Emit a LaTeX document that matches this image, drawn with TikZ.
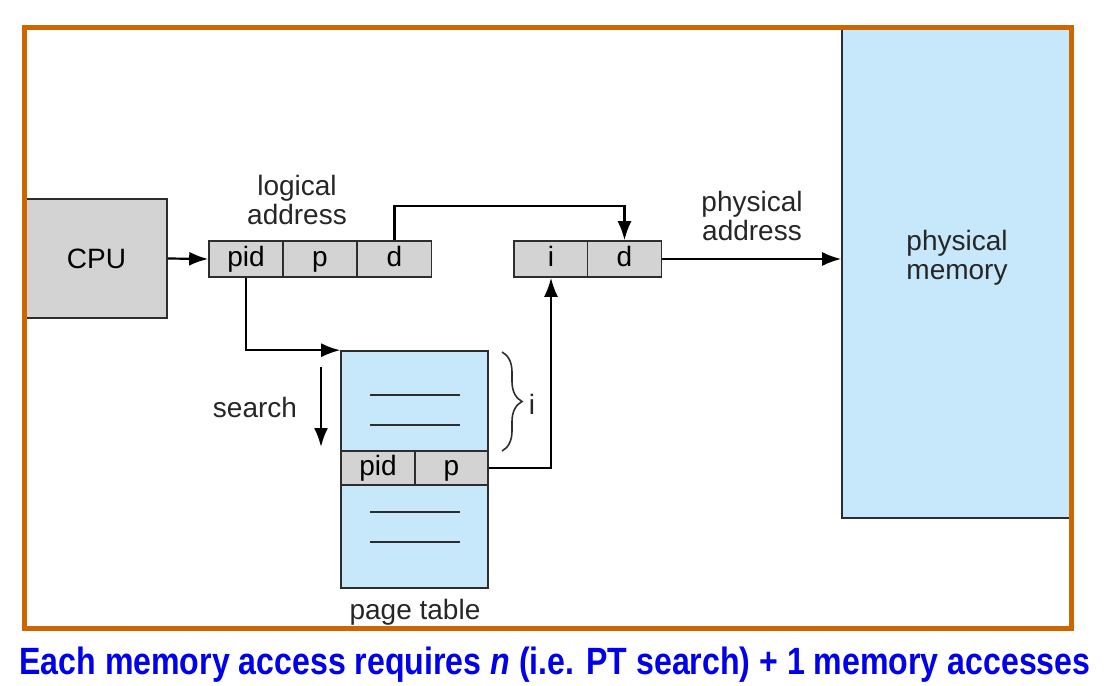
\documentclass[tikz,border=0pt]{standalone}
\usepackage{fontspec}
\setmainfont{Liberation Sans}
\usetikzlibrary{arrows.meta,decorations.pathreplacing}
\definecolor{framec}{RGB}{204,102,0}
\definecolor{cellgray}{RGB}{211,211,211}
\definecolor{memblue}{RGB}{198,232,250}
\definecolor{edgec}{RGB}{45,45,45}
\definecolor{captblue}{RGB}{0,0,235}
\begin{document}
\begin{tikzpicture}[x=1pt,y=-1pt,
  lbl/.style={font=\fontsize{28}{29}\selectfont, text=black!85, align=center, inner sep=0},
  cell/.style={draw=edgec, line width=1.6pt, fill=cellgray, minimum width=74pt, minimum height=36pt, inner sep=0, text height=20pt, text depth=6pt, font=\fontsize{28}{29}\selectfont},
  bluebox/.style={draw=edgec, line width=1.6pt, fill=memblue, inner sep=0},
  arr/.style={line width=2.2pt, -{Latex[length=19pt,width=14pt]}},
  rule/.style={line width=1.4pt, edgec}]
\useasboundingbox (0,0) rectangle (1115,685);
% physical memory
\node[bluebox, minimum width=228pt, minimum height=489pt] (mem) at (956,273.5) {};
\node[lbl] (memlbl) at (957,258) {physical\\memory};
% CPU
\node[cell, minimum width=141pt, minimum height=119pt, text depth=0pt] (cpu) at (96.5,258.5) {CPU};
% logical address
\node[cell] (pid1) at (246,259) {pid};
\node[cell] (p1) at (320,259) {p};
\node[cell] (d1) at (394.5,259) {d};
\node[lbl] (lalbl) at (297,200) {logical\\address};
% physical address
\node[cell] (i2) at (551,259) {i};
\node[cell] (d2) at (624.5,259) {d};
\node[lbl] (palbl) at (752,216) {physical\\address};
% page table
\node[bluebox, minimum width=147pt, minimum height=237pt] (pt) at (414.5,469.5) {};
\node[cell, minimum width=73.5pt, minimum height=34pt] (pid3) at (378,468) {pid};
\node[cell, minimum width=73.5pt, minimum height=34pt] (p3) at (451.5,468) {p};
\draw[rule] (370,395) -- (460,395);
\draw[rule] (370,425) -- (460,425);
\draw[rule] (370,512) -- (460,512);
\draw[rule] (370,542) -- (460,542);
\node[lbl] (ptlbl) at (415,612) {page table};
% brace
\coordinate (b1) at (502,352);
\coordinate (b2) at (502,451);
\draw[line width=1.6pt, edgec, decorate, decoration={brace, amplitude=20pt, aspect=0.5}] (b1) -- (b2);
\node[lbl] (ilbl) at (532,404) {i};
% search
\coordinate (s1) at (321,367);
\coordinate (s2) at (321,447);
\draw[arr] (s1) -- (s2);
\node[lbl] (slbl) at (255,407) {search};
% connectors
\draw[arr] (cpu.east) -- (pid1.west);
\draw[arr] (d1.north) -- ++(0,-34) -| (d2.north);
\draw[arr] (d2.east) -- (mem.west |- d2.east);
\draw[arr] (pid1.south) |- (pt.north west);
\draw[arr] (p3.east) -| (i2.south);
% frame
\draw[framec, line width=5pt] (24,28) rectangle (1071,628);
% caption
\node[inner sep=0, text=captblue, font=\fontsize{38}{40}\selectfont\bfseries] (cap) at (555,665)
  {\scalebox{0.845}[1]{Each memory access requires \textit{n} (i.e. PT search) + 1 memory accesses}};
\end{tikzpicture}
\end{document}
